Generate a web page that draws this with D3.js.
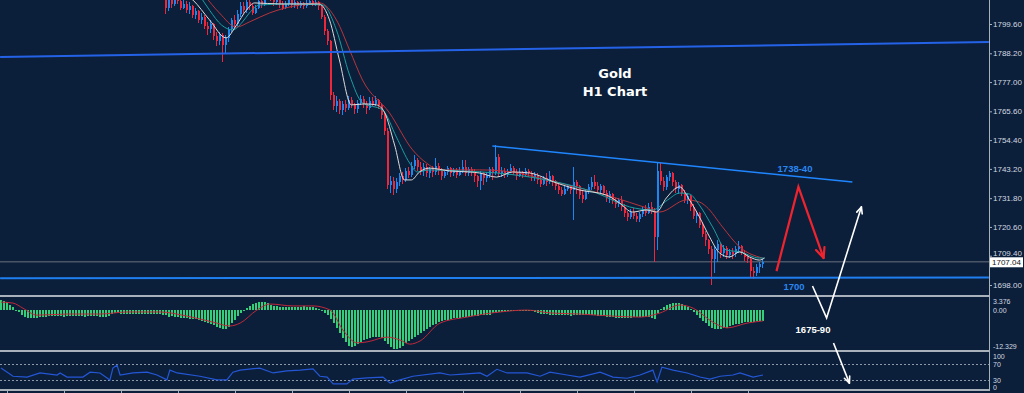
<!DOCTYPE html>
<html>
<head>
<meta charset="utf-8">
<title>Gold H1 Chart</title>
<style>
  body { margin: 0; background: #0c1f3a; }
  svg { display: block; }
  .ax text, .lbl { font-family: "Liberation Sans", Arial, sans-serif; font-size: 8px; fill: #d3d9e0; }
  .sm { font-size: 7px; }
</style>
</head>
<body>
<script src="https://cdn.jsdelivr.net/npm/d3@7/dist/d3.min.js"></script>
<script>

var width  = 1024;
var height = 393;
var plotRight = 989;

// ---- price bars (bars before 55 sit above the visible range) ----
var firstBar  = 55;
var firstOpen = 1810.5;

var closes = [
  1806.0, 1809.0, 1807.2, 1810.0, 1808.5, 1806.0, 1807.5, 1805.2, 1806.5, 1803.0,
  1804.5, 1801.0, 1802.5, 1799.0, 1797.5, 1799.5, 1795.0, 1793.0, 1795.5, 1791.5,
  1794.0, 1797.5, 1801.0, 1799.5, 1803.5, 1806.5, 1805.0, 1808.0, 1806.5, 1804.0,
  1806.0, 1808.5, 1807.0, 1810.0, 1812.0, 1810.5, 1808.0, 1809.5, 1807.5, 1806.0,
  1807.5, 1809.0, 1807.0, 1808.0, 1806.8, 1807.6, 1806.5, 1807.8, 1808.5, 1807.5,
  1808.0, 1806.5, 1802.5, 1797.0, 1793.0, 1772.0, 1767.5, 1769.5, 1766.0, 1768.5,
  1767.0, 1770.0, 1768.0, 1766.5, 1769.0, 1770.5, 1768.5, 1767.0, 1769.5, 1768.5,
  1770.0, 1768.0, 1764.0, 1758.0, 1737.0, 1738.5, 1735.5, 1738.0, 1740.5, 1739.0,
  1742.5, 1741.0, 1744.5, 1746.5, 1744.0, 1742.5, 1744.0, 1741.5, 1743.0, 1742.0,
  1744.5, 1742.5, 1740.5, 1742.0, 1743.5, 1741.5, 1742.8, 1741.0, 1742.5, 1744.0,
  1741.5, 1743.0, 1742.0, 1740.5, 1738.5, 1741.5, 1739.5, 1741.0, 1743.0, 1741.5,
  1748.0, 1741.5, 1742.5, 1741.0, 1742.5, 1743.5, 1742.0, 1740.5, 1742.0, 1741.0,
  1742.5, 1741.5, 1740.0, 1741.0, 1739.0, 1737.5, 1739.5, 1738.0, 1740.5, 1738.5,
  1736.5, 1735.0, 1733.5, 1735.5, 1736.5, 1735.0, 1738.0, 1736.5, 1733.0, 1731.5,
  1734.5, 1736.0, 1738.0, 1736.5, 1735.0, 1736.5, 1734.0, 1732.0, 1733.5, 1731.0,
  1729.5, 1731.0, 1728.5, 1726.0, 1724.5, 1726.5, 1725.0, 1723.5, 1725.5, 1727.5,
  1726.0, 1728.5, 1727.0, 1716.5, 1742.5, 1738.5, 1736.0, 1740.0, 1741.5, 1738.0,
  1735.5, 1737.0, 1734.0, 1731.0, 1732.5, 1728.5, 1725.0, 1726.0, 1721.5, 1718.0,
  1715.5, 1712.0, 1708.0, 1711.5, 1714.0, 1710.5, 1712.5, 1709.5, 1711.0, 1710.0,
  1712.0, 1713.0, 1710.5, 1709.0, 1708.0, 1703.5, 1702.5, 1705.0, 1706.0, 1707.04
];
var highs = [
  1811, 1811, 1810.5, 1812, 1811, 1809.5, 1809, 1808.5, 1808, 1807,
  1806, 1805, 1804, 1803, 1800.5, 1801, 1800, 1796.5, 1796.5, 1796,
  1795.5, 1798.5, 1802, 1803, 1805, 1808, 1808, 1810, 1810, 1807.5,
  1807, 1810, 1811, 1812, 1814, 1813, 1811, 1811, 1810, 1808.5,
  1808.5, 1810.5, 1809.5, 1809, 1808.5, 1808.5, 1808, 1809, 1810, 1809.5,
  1809, 1808.5, 1807, 1803, 1797.5, 1793.5, 1773, 1771.5, 1770.5, 1769.5,
  1770, 1771.5, 1771, 1769, 1770, 1772, 1771.5, 1769.5, 1771, 1771,
  1771.5, 1770.5, 1769, 1765, 1759, 1740.5, 1740, 1739.5, 1741.5, 1742,
  1743.5, 1744, 1746, 1748.5, 1747.5, 1746, 1745.5, 1745, 1744, 1744.5,
  1747.5, 1745.5, 1743.5, 1743, 1744.5, 1744, 1743.5, 1743.5, 1744, 1746.5,
  1746.5, 1744, 1744, 1743, 1741, 1742.5, 1742, 1742, 1744, 1744,
  1752.5, 1749, 1744, 1743.5, 1743, 1745, 1744.5, 1743, 1743.5, 1742.5,
  1743.5, 1743, 1742.5, 1742, 1741.5, 1740, 1740.5, 1741.5, 1742.5, 1741,
  1739, 1737.5, 1736, 1736.5, 1737.5, 1737, 1743.9, 1739, 1737, 1734.5,
  1735.5, 1737.5, 1740, 1741, 1738, 1737.5, 1737, 1735, 1734.5, 1734,
  1732, 1732, 1732.5, 1729.5, 1727, 1727.5, 1728, 1726, 1726.5, 1728.5,
  1729, 1730, 1730.5, 1728, 1745.5, 1745.5, 1740, 1741, 1742.5, 1742,
  1739, 1738, 1737.5, 1735, 1734, 1733, 1729.5, 1727, 1726.5, 1722.5,
  1719, 1716, 1713, 1713, 1715.5, 1714.5, 1713.5, 1713, 1712, 1712.5,
  1713, 1715, 1713.5, 1711.5, 1710, 1708.5, 1705, 1706, 1707, 1708.2
];
var lows = [
  1803.6, 1804.5, 1806.0, 1806.5, 1807.5, 1805.0, 1805.5, 1804.0, 1803.5, 1802.0,
  1801.5, 1800.0, 1799.5, 1797.5, 1795.5, 1796.0, 1793.5, 1791.0, 1791.5, 1784.8,
  1788.0, 1792.5, 1796.5, 1798.0, 1799.0, 1802.5, 1803.5, 1804.0, 1805.0, 1803.0,
  1803.5, 1805.5, 1806.0, 1806.5, 1809.5, 1808.5, 1806.5, 1807.0, 1806.0, 1805.0,
  1805.5, 1806.8, 1806.0, 1806.0, 1805.5, 1806.0, 1805.5, 1806.0, 1807.0, 1806.5,
  1806.5, 1805.0, 1801.5, 1795.5, 1791.5, 1770.0, 1766.0, 1765.5, 1764.5, 1764.0,
  1765.5, 1766.0, 1767.0, 1764.5, 1765.0, 1768.0, 1767.0, 1764.5, 1766.0, 1767.5,
  1767.5, 1766.5, 1762.5, 1756.5, 1735.5, 1734.0, 1733.0, 1734.0, 1736.5, 1737.5,
  1738.0, 1739.5, 1740.0, 1743.0, 1742.5, 1741.0, 1740.5, 1740.0, 1739.5, 1740.0,
  1741.0, 1741.0, 1739.0, 1739.5, 1741.0, 1740.0, 1740.5, 1739.5, 1740.5, 1741.5,
  1740.5, 1740.5, 1740.5, 1738.0, 1736.0, 1735.0, 1737.0, 1738.0, 1739.5, 1739.0,
  1741.0, 1740.0, 1740.0, 1739.5, 1740.0, 1741.5, 1741.0, 1739.0, 1740.0, 1739.5,
  1740.5, 1740.0, 1738.5, 1738.5, 1737.5, 1736.0, 1737.0, 1736.5, 1737.5, 1736.5,
  1735.0, 1733.5, 1732.5, 1733.0, 1734.5, 1733.5, 1723.3, 1733.5, 1731.5, 1730.0,
  1731.0, 1733.5, 1735.0, 1735.5, 1734.0, 1734.0, 1733.0, 1730.5, 1730.0, 1729.5,
  1728.0, 1728.5, 1727.0, 1724.5, 1723.0, 1723.5, 1723.5, 1722.5, 1722.5, 1724.5,
  1725.0, 1725.5, 1725.5, 1707.0, 1711.5, 1737.0, 1734.5, 1735.0, 1738.5, 1736.5,
  1734.0, 1733.5, 1732.5, 1730.0, 1729.5, 1727.0, 1723.5, 1722.0, 1720.0, 1716.5,
  1713.0, 1710.0, 1698.0, 1702.5, 1707.0, 1708.5, 1709.0, 1708.0, 1708.5, 1708.0,
  1709.0, 1710.5, 1709.5, 1707.5, 1706.5, 1701.0, 1700.5, 1701.5, 1702.5, 1704.5
];

// moving averages: [bar, price]
var maFast = [[62,1810.8],[64,1808.9],[69.5,1801.2],[75,1794.2],[78.5,1799.2],[81.8,1805.0],[84.5,1807.8],[93,1807.4],[106,1807.4],[109.5,1801.2],[112.8,1785.6],[116.8,1768.1],[121.2,1768.5],[125.2,1768.1],[127.8,1765.3],[131.2,1752.5],[134.5,1738.9],[136.8,1738.9],[139.5,1742.0],[142.8,1743.5],[149.5,1742.4],[156.2,1742.0],[159.5,1741.6],[165.2,1740.0],[170.5,1742.0],[176.2,1741.6],[185.2,1737.7],[192.8,1735.0],[201.8,1733.0],[206.2,1729.9],[210.5,1726.4],[215.2,1727.2],[218.5,1726.4],[221.8,1731.9],[226.2,1736.2],[229.5,1731.1],[232.8,1724.5],[236.2,1716.7],[239.5,1710.5],[242.8,1708.9],[246.2,1710.9],[249.5,1708.9],[252.8,1707.7],[254.5,1708.5]];
var maMid  = [[66.2,1810.8],[69.5,1805.0],[73.5,1799.2],[77.2,1797.3],[80.5,1800.4],[82.8,1803.9],[86.2,1807.0],[96.2,1807.4],[107.2,1807.0],[111.8,1797.3],[116.2,1779.7],[120.5,1768.9],[127.2,1766.1],[131.8,1755.6],[136.2,1745.5],[138.8,1742.0],[142.8,1742.8],[152.8,1742.4],[165.2,1741.6],[181.8,1738.9],[198.5,1733.8],[209.5,1728.4],[217.2,1727.2],[222.2,1731.1],[226.2,1733.8],[229.5,1733.4],[232.8,1729.1],[237.2,1720.6],[241.8,1711.6],[246.2,1710.9],[252.8,1708.5],[254.5,1708.5]];
var maSlow = [[67.8,1810.8],[72.8,1803.9],[78.5,1798.4],[82.8,1800.4],[89.5,1803.9],[99.5,1807.0],[106.2,1807.8],[111.8,1801.2],[116.2,1789.5],[120.5,1777.8],[129.5,1765.0],[137.2,1750.6],[141.8,1745.5],[146.2,1742.8],[159.5,1742.8],[170.5,1742.0],[181.8,1738.9],[192.8,1735.8],[203.8,1732.3],[215.2,1728.0],[219.5,1726.4],[228.5,1731.1],[232.8,1730.3],[235.2,1728.4],[240.5,1720.6],[246.2,1712.8],[253.8,1708.5]];

// MACD main (one value per bar, 0..254) and signal [bar, value]
var macdHist = [
  3.0, 2.8, 2.3, 1.5, 0.8, 0.0, -0.8, -1.6, -2.2, -2.6, -2.7, -2.7, -2.6,
  -2.4, -2.3, -2.2, -2.1, -2.1, -2.0, -2.0, -2.1, -2.2, -2.1, -2.0, -1.9, -1.9, -2.0, -2.1, -2.2, -2.1, -2.0, -2.0, -2.1, -2.2, -2.3, -2.2, -2.0,
  -1.2, -0.9, -1.0, -1.3,
  -1.4, -1.3, -1.3, -1.2, -1.3, -1.3, -1.4, -1.3, -1.2, -1.2, -1.3, -1.4, -1.4, -1.5,
  -1.8, -2.4, -2.0, -2.2, -2.4, -2.5, -2.6, -2.7, -2.8, -2.9, -3.0, -3.2, -3.5, -3.8, -4.1, -4.5, -4.9, -5.3, -5.6, -5.9, -6.1,
  -5.4, -4.3, -3.2, -2.1, -1.1, -0.3,
  0.5, 1.2, 1.8, 2.2, 2.5, 2.5, 2.3,
  2.0, 1.6, 1.3, 1.1, 1.0, 0.9, 0.8, 0.8, 0.9, 0.9, 1.0, 1.0, 1.1, 1.0, 0.9, 0.8,
  0.5, 0.2, -0.3, -1.0, -1.8, -2.8,
  -4.2, -5.8, -7.4, -8.9, -10.2, -11.3, -11.8,
  -11.5, -10.9, -10.2, -9.6, -9.2, -8.9, -8.7, -8.6, -8.7,
  -9.0, -9.8, -10.8, -11.8, -12.3, -12.2,
  -11.9, -11.3, -10.6, -9.9, -9.2, -8.5, -7.8, -7.2, -6.6, -6.0, -5.4, -4.9, -4.4, -3.9,
  -3.6, -3.3, -3.1, -2.9, -2.7, -2.6, -2.5, -2.4, -2.3, -2.2, -2.1, -2.0, -1.9, -1.8, -1.7, -1.6, -1.5, -1.1, -0.9, -0.8,
  -0.7, -0.6, -0.5, -0.4, -0.4, -0.3, -0.3, -0.2, -0.2, -0.3,
  -0.5, -0.8, -1.1, -1.2, -1.3, -1.4, -1.5, -1.6, -1.7, -1.7,
  -1.8, -1.7, -1.8, -1.9, -1.5, -1.6, -1.7, -1.7, -1.6, -1.6, -1.7, -1.8, -1.9, -2.0, -2.1, -2.2, -2.3, -2.4, -2.5,
  -2.6, -2.7, -2.7, -2.6, -2.5, -2.4, -2.3, -2.3, -2.2, -2.2, -2.4,
  -2.7, -2.8,
  -1.0, 0.2, 1.0, 1.5, 1.9, 2.1, 2.1,
  2.0, 1.8, 1.4, 0.9,
  0.3, -0.6, -1.6, -2.6, -3.5, -4.3, -5.0,
  -5.6, -6.0, -6.1, -6.0, -5.8, -5.6, -5.2,
  -4.9, -4.6, -4.4, -4.2, -4.0, -3.9, -3.8, -3.7, -3.6, -3.5, -3.4
];
var macdSignal = [[0,2.4],[4,2.1],[7.3,0.5],[12,-1.7],[22,-1.35],[33,-1.35],[42,-0.7],[53,-0.7],[62,-2.0],[70.7,-3.9],[76.3,-5.1],[79.7,-4.2],[85.3,-0.1],[89.7,1.8],[97.3,1.2],[104,1.2],[109.7,-0.1],[114,-6.4],[118.7,-10.4],[122,-10.1],[128.7,-8.6],[133,-9.5],[136.3,-10.8],[139.7,-9.8],[146.3,-4.2],[155.3,-2.3],[166.3,-0.7],[175.3,-0.1],[183,-1.0],[193,-1.35],[204,-2.0],[213,-2.3],[219.7,-1.0],[226.3,1.5],[230.7,0.5],[237.3,-3.9],[242,-5.7],[248.7,-4.2],[254,-3.5]];

// RSI [bar, value]
var rsi = [[0,60],[4,40],[8.7,38],[13,48],[18.7,43],[19.7,48],[22,38],[27.3,38],[29.7,50],[33,48],[36.3,31],[37.3,60],[38.7,67],[39.7,43],[44,48],[48.7,50],[52,43],[55.3,31],[56.3,55],[58.7,48],[66.3,40],[72,31],[75.3,31],[77.3,50],[79.7,55],[86.3,60],[90.7,48],[95.3,53],[99.7,55],[104,58],[106.3,40],[108.7,38],[110.7,21],[115.3,21],[117.3,33],[122,36],[127.3,38],[129.7,23],[133,31],[137.3,40],[146.3,48],[149.7,43],[154,45],[159.7,48],[162,40],[165.3,57],[168.7,48],[175.3,48],[179.7,40],[183,50],[188.7,43],[193,38],[199.7,50],[204,38],[208.7,35],[213,43],[217.3,55],[218.7,26],[220.3,62],[224,55],[228.7,48],[233,38],[236.3,33],[239.7,40],[244,43],[246.3,48],[250.7,38],[254,43]];

// price axis and indicator scale labels
var priceTicks = [1799.60, 1788.20, 1777.00, 1765.60, 1754.40, 1743.20, 1731.80, 1720.60, 1709.40, 1698.00];
var macdTicks  = [3.376, 0.00, -12.329];
var rsiTicks   = [100, 70, 30, 0];
var rsiLevels  = [70, 30];

// drawn objects [bar, price]
var topLine     = [[-0.3, 1786.75], [329.3, 1792.6]];
var supportLine = [[-0.3, 1700.6], [329.3, 1700.9]];
var trendLine   = [[163.8, 1752.1], [283.8, 1738.1]];
var redPath     = [[258.5, 1703.4], [265.8, 1736.2], [274.2, 1708.5]];
var whitePath   = [[270.5, 1697.6], [275.2, 1685.2], [286.8, 1728.4]];
var whiteArrow  = [[277.5, 1675.4], [282.8, 1659.8]];
var titleLines  = ["Gold", "H1 Chart"];
var levelLabels = ["1738-40", "1700", "1675-90"];

// ---------------------------------------------------------------

var svg = d3.select("body")
  .append("svg")
  .attr("width", width)
  .attr("height", height)
  .style("background", "#0c1f3a");

var x  = d3.scaleLinear().domain([0, 255]).range([1, 766]);
var yP = d3.scaleLinear().domain([1698.0, 1799.6]).range([285, 24]);
var yM = d3.scaleLinear().domain([-12.329, 3.376]).range([349, 299]);
var yR = d3.scaleLinear().domain([30, 70]).range([380.3, 364]);

var defs = svg.append("defs");
defs.append("clipPath").attr("id", "cMain").append("rect")
  .attr("x", 0).attr("y", 0).attr("width", plotRight).attr("height", 295);
defs.append("clipPath").attr("id", "cMacd").append("rect")
  .attr("x", 0).attr("y", 298).attr("width", plotRight).attr("height", 52);
defs.append("clipPath").attr("id", "cRsi").append("rect")
  .attr("x", 0).attr("y", 353).attr("width", plotRight).attr("height", 36);

// candles
var bars = closes.map(function(c, k) {
  var o = k ? closes[k - 1] : firstOpen;
  return { i: firstBar + k, o: o, c: c,
           h: Math.max(highs[k], o, c), l: Math.min(lows[k], o, c) };
});

var main = svg.append("g").attr("clip-path", "url(#cMain)");

// current price line
var last = closes[closes.length - 1];
main.append("line")
  .attr("x1", 0).attr("x2", plotRight)
  .attr("y1", yP(last)).attr("y2", yP(last))
  .attr("stroke", "#4a5567").attr("stroke-width", 1.5);

var cg = main.append("g").attr("shape-rendering", "crispEdges");
cg.selectAll("line.wick").data(bars).enter().append("line")
  .attr("class", "wick")
  .attr("x1", function(d) { return Math.round(x(d.i)) - 0.5; })
  .attr("x2", function(d) { return Math.round(x(d.i)) - 0.5; })
  .attr("y1", function(d) { return yP(d.h); })
  .attr("y2", function(d) { return yP(d.l); })
  .attr("stroke", function(d) { return d.c >= d.o ? "#1f86f0" : "#f0263a"; })
  .attr("stroke-width", 1);
cg.selectAll("rect.body").data(bars).enter().append("rect")
  .attr("class", "body")
  .attr("x", function(d) { return Math.round(x(d.i)) - 1; })
  .attr("width", 2)
  .attr("y", function(d) { return yP(Math.max(d.o, d.c)); })
  .attr("height", function(d) { return Math.max(1, Math.abs(yP(d.o) - yP(d.c))); })
  .attr("fill", function(d) { return d.c >= d.o ? "#1f86f0" : "#f0263a"; });

// moving averages
var maLine = d3.line()
  .x(function(d) { return x(d[0]); })
  .y(function(d) { return yP(d[1]); })
  .curve(d3.curveMonotoneX);
[[maSlow, "#b8343c"], [maMid, "#1b9ea0"], [maFast, "#dcdcdc"]].forEach(function(m) {
  main.append("path").datum(m[0]).attr("d", maLine)
    .attr("fill", "none").attr("stroke", m[1]).attr("stroke-width", 1);
});

// MACD panel
var mg = svg.append("g").attr("clip-path", "url(#cMacd)");
mg.selectAll("rect").data(macdHist).enter().append("rect")
  .attr("shape-rendering", "crispEdges")
  .attr("x", function(d, i) { return Math.round(x(i)) - 1; })
  .attr("width", 2)
  .attr("y", function(d) { return Math.min(yM(0), yM(d)); })
  .attr("height", function(d) { return Math.max(1, Math.abs(yM(d) - yM(0))); })
  .attr("fill", "#34cf76");
mg.append("path").datum(macdSignal)
  .attr("d", d3.line().x(function(d) { return x(d[0]); }).y(function(d) { return yM(d[1]); }).curve(d3.curveMonotoneX))
  .attr("fill", "none").attr("stroke", "#c0283a").attr("stroke-width", 1);

// RSI panel
var rg = svg.append("g").attr("clip-path", "url(#cRsi)");
rg.selectAll("line").data(rsiLevels).enter().append("line")
  .attr("x1", 0).attr("x2", plotRight)
  .attr("y1", function(d) { return Math.round(yR(d)) + 0.5; })
  .attr("y2", function(d) { return Math.round(yR(d)) + 0.5; })
  .attr("stroke", "#8d99a8").attr("stroke-dasharray", "2,2").attr("stroke-width", 1);
rg.append("path").datum(rsi)
  .attr("d", d3.line().x(function(d) { return x(d[0]); }).y(function(d) { return yR(d[1]); }))
  .attr("fill", "none").attr("stroke", "#2457d6").attr("stroke-width", 1.2);

// panel separators, axis line, time ticks
var sep = svg.append("g").attr("shape-rendering", "crispEdges");
[296, 351, 390].forEach(function(yy) {
  sep.append("rect").attr("x", 0).attr("y", yy - 1).attr("width", plotRight + 1).attr("height", 2)
    .attr("fill", "#a9b1bb");
});
sep.append("rect").attr("x", plotRight).attr("y", 0).attr("width", 1).attr("height", 391)
  .attr("fill", "#a9b1bb");
sep.selectAll("line.tt").data(d3.range(2, 255, 19)).enter().append("line")
  .attr("class", "tt")
  .attr("x1", function(d) { return Math.round(x(d)) + 0.5; })
  .attr("x2", function(d) { return Math.round(x(d)) + 0.5; })
  .attr("y1", 391).attr("y2", 393)
  .attr("stroke", "#a9b1bb");

// price axis (the price box below covers part of the lowest labels, as in the terminal)
var ax = svg.append("g").attr("class", "ax")
  .attr("transform", "translate(" + plotRight + ",0)")
  .call(d3.axisRight(yP).tickValues(priceTicks).tickSize(3).tickPadding(1)
        .tickFormat(d3.format(".2f")));
ax.select(".domain").remove();
ax.selectAll("line").attr("stroke", "#a9b1bb");
// the 1709.40 label peeks out just above the price box
ax.selectAll(".tick text").filter(function(d) { return d === 1709.40; })
  .attr("dy", "-0.05em");

// current price box
var bx = svg.append("g");
bx.append("rect").attr("x", plotRight + 1).attr("y", yP(last) - 4.5)
  .attr("width", 33).attr("height", 10).attr("fill", "#ffffff");
bx.append("text").attr("class", "lbl").attr("x", plotRight + 3).attr("y", yP(last) + 3.5)
  .style("fill", "#111").text(last.toFixed(2));

// indicator scale labels
svg.selectAll("text.mt").data(macdTicks).enter().append("text")
  .attr("class", "lbl sm mt")
  .attr("x", plotRight + 4)
  .attr("y", function(d) { return Math.min(346, Math.max(301.5, yM(d) + 0.5)) + 2.5; })
  .text(function(d) { return d === 0 ? "0.00" : String(d); });
svg.selectAll("text.rt").data(rsiTicks).enter().append("text")
  .attr("class", "lbl sm rt")
  .attr("x", plotRight + 4)
  .attr("y", function(d) { return Math.min(387.5, Math.max(356.5, yR(d))) + 2.5; })
  .text(function(d) { return d; });

// drawn objects
var pt = function(d) { return [x(d[0]), yP(d[1])]; };
var straight = d3.line();

function drawPath(data, color, w) {
  svg.append("path").datum(data.map(pt)).attr("d", straight)
    .attr("fill", "none").attr("stroke", color).attr("stroke-width", w)
    .attr("stroke-linejoin", "miter");
}
function arrowHead(data, color, w, len) {
  var p = data.map(pt);
  var a = p[p.length - 2], b = p[p.length - 1];
  var ang = Math.atan2(b[1] - a[1], b[0] - a[0]);
  [-0.42, 0.42].forEach(function(s) {
    svg.append("line")
      .attr("x1", b[0]).attr("y1", b[1])
      .attr("x2", b[0] - len * Math.cos(ang + s))
      .attr("y2", b[1] - len * Math.sin(ang + s))
      .attr("stroke", color).attr("stroke-width", w).attr("stroke-linecap", "round");
  });
}

drawPath(topLine, "#2462e8", 2);
drawPath(supportLine, "#1f7ff0", 2);
drawPath(trendLine, "#1f86ff", 1.5);
drawPath(redPath, "#f0242f", 2.2);
arrowHead(redPath, "#f0242f", 2.2, 11);
drawPath(whitePath, "#ffffff", 1.6);
arrowHead(whitePath, "#ffffff", 1.6, 7);
drawPath(whiteArrow, "#ffffff", 1.6);
arrowHead(whiteArrow, "#ffffff", 1.6, 7);

// labels
var bold = function(sel, size, fam) {
  return sel.attr("text-anchor", "middle")
    .style("font-family", fam).style("font-weight", "bold").style("font-size", size + "px");
};
svg.selectAll("text.title").data(titleLines).enter().append("text")
  .attr("class", "title")
  .attr("x", 615).attr("y", function(d, i) { return 78 + i * 18; })
  .call(bold, 13, "'DejaVu Sans', Verdana, sans-serif")
  .style("fill", "#ffffff")
  .text(function(d) { return d; });

var arial = "'Liberation Sans', Arial, sans-serif";
bold(svg.append("text").attr("x", 795).attr("y", yP(1743.2) + 3), 9.5, arial)
  .style("fill", "#2a86f0").text(levelLabels[0]);
bold(svg.append("text").attr("x", 794).attr("y", yP(1697.2) + 3), 9.5, arial)
  .style("fill", "#2a86f0").text(levelLabels[1]);
bold(svg.append("text").attr("x", 813).attr("y", yP(1680.5) + 3), 9.5, arial)
  .style("fill", "#ffffff").text(levelLabels[2]);

</script>
</body>
</html>
